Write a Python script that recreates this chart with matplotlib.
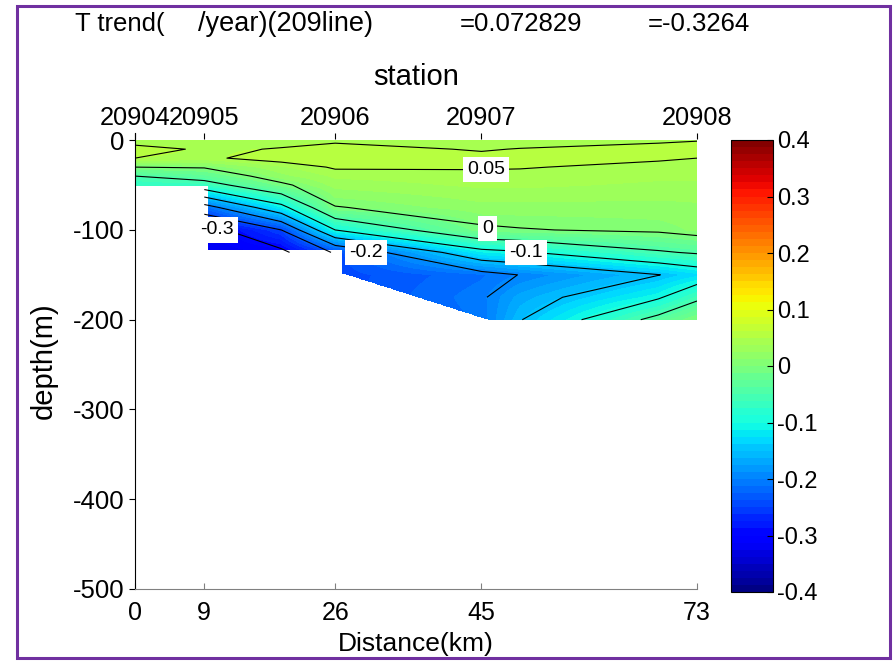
import numpy as np
import matplotlib
matplotlib.use('Agg')
import matplotlib.pyplot as plt
from matplotlib.patches import Rectangle

plt.rcParams['font.family'] = ['Liberation Sans', 'DejaVu Sans']
plt.rcParams['axes.unicode_minus'] = False
plt.rcParams['contour.negative_linestyle'] = 'solid'

#### data
dist_km = [0, 9, 19, 26, 45, 50, 68, 73]
depth_m = [0, 10, 20, 30, 40, 50, 75, 100, 125, 150, 175, 200]
# T trend per year, rows = depth, cols = distance
trend = [
    [0.040, 0.042, 0.045, 0.046, 0.040, 0.040, 0.047, 0.049],
    [0.058, 0.047, 0.051, 0.058, 0.048, 0.051, 0.056, 0.058],
    [0.050, 0.045, 0.062, 0.062, 0.056, 0.057, 0.052, 0.050],
    [0.000, 0.003, 0.035, 0.053, 0.052, 0.051, 0.046, 0.045],
    [-0.050, -0.030, 0.020, 0.040, 0.045, 0.046, 0.040, 0.040],
    [-0.075, -0.070, -0.008, 0.030, 0.040, 0.040, 0.035, 0.035],
    [-0.150, -0.220, -0.115, -0.002, 0.020, 0.020, 0.020, 0.022],
    [-0.250, -0.320, -0.250, -0.100, -0.006, -0.002, 0.006, 0.015],
    [-0.300, -0.325, -0.310, -0.245, -0.115, -0.105, -0.055, -0.045],
    [-0.300, -0.320, -0.310, -0.245, -0.215, -0.199, -0.151, -0.130],
    [-0.300, -0.320, -0.300, -0.245, -0.205, -0.170, -0.105, -0.060],
    [-0.300, -0.320, -0.300, -0.245, -0.210, -0.152, -0.035, 0.000],
]
# deepest valid level of each profile (contour lines)
profile_bottom = [50, 125, 125, 150, 175, 200, 200, 200]
# bottom depth along the section (shading)
bottom_x = [0, 9.5, 9.5, 27, 27, 46, 73]
bottom_d = [50, 50, 122, 122, 148, 200, 200]

stations = ['20904', '20905', '20906', '20907', '20908']
station_km = [0, 9, 26, 45, 73]
line_levels = [-0.3, -0.25, -0.2, -0.15, -0.1, -0.05, 0, 0.05]
label_levels = [-0.3, -0.2, -0.1, 0, 0.05]
label_pos = [(10.6, -100), (30, -125), (50.8, -125), (45.8, -98), (45.6, -33)]
cbar_ticks = [-0.4, -0.3, -0.2, -0.1, 0, 0.1, 0.2, 0.3, 0.4]

#### gridding
x = np.array(dist_km, float)
d = np.array(depth_m, float)
T = np.array(trend)
Tc = np.ma.masked_where(d[:, None] > np.array(profile_bottom)[None, :], T)

xf = np.linspace(0, 73, 366)
df = np.linspace(0, 200, 401)
Z1 = np.array([np.interp(df, d, T[:, j]) for j in range(len(x))]).T
Zf = np.array([np.interp(xf, x, row) for row in Z1])
bot = np.interp(xf, bottom_x, bottom_d)
XX, DD = np.meshgrid(xf, df)
Zf = np.ma.masked_where(DD > bot[None, :], Zf)

#### plot
fig = plt.figure(figsize=(8.94, 6.61), dpi=100)
ax = fig.add_axes([135/894, 1-589/661, 562/894, 456/661])
cf = ax.contourf(XX, -DD, Zf, levels=np.linspace(-0.4, 0.4, 65), cmap='jet')
cs = ax.contour(x, -d, Tc, levels=line_levels, colors='k', linewidths=0.8,
                corner_mask=False)
for lev, (lx, ly) in zip(label_levels, label_pos):
    ax.text(lx, ly, '%g' % lev, fontsize=14, ha='center', va='center', zorder=5,
            bbox=dict(facecolor='white', edgecolor='none', pad=3))

ax.set_xlim(0, 73)
ax.set_ylim(-500, 8)
ax.set_xticks(station_km)
ax.set_yticks([0, -100, -200, -300, -400, -500])
ax.tick_params(axis='x', direction='in', length=4, labelsize=18, color='0.5', pad=9)
ax.tick_params(axis='y', direction='out', length=4, labelsize=18.5)
for s in ['top', 'right']:
    ax.spines[s].set_visible(False)
ax.spines['bottom'].set_color('0.5')
ax.set_xlabel('Distance(km)', fontsize=19, labelpad=5)
ax.set_ylabel('depth(m)', fontsize=21, labelpad=11)

top = ax.secondary_xaxis('top')
top.set_xticks(station_km)
top.set_xticklabels(stations)
top.tick_params(direction='in', length=4, labelsize=18.3, pad=2)
top.spines['top'].set_visible(False)
top.set_xlabel('station', fontsize=21, labelpad=15)

cax = fig.add_axes([731/894, 1-592/661, 42/894, 452/661])
cb = fig.colorbar(cf, cax=cax, ticks=cbar_ticks)
cb.ax.tick_params(direction='in', length=4, labelsize=17, pad=3)
cb.ax.set_yticklabels(['%g' % v for v in cbar_ticks])

fig.text(75/894, 1-24/661, 'T trend(', fontsize=18.5, va='center')
fig.text(198/894, 1-24/661, '/year)(209line)', fontsize=19.5, va='center')
fig.text(460/894, 1-24/661, '=0.072829', fontsize=18.5, va='center')
fig.text(648/894, 1-24/661, '=-0.3264', fontsize=18.5, va='center')

fig.add_artist(Rectangle((17/894, 1-658/661), 873/894, 652/661, transform=fig.transFigure,
                         fill=False, edgecolor='#7030a0', linewidth=2.2))

fig.savefig('out.png', dpi=100)
